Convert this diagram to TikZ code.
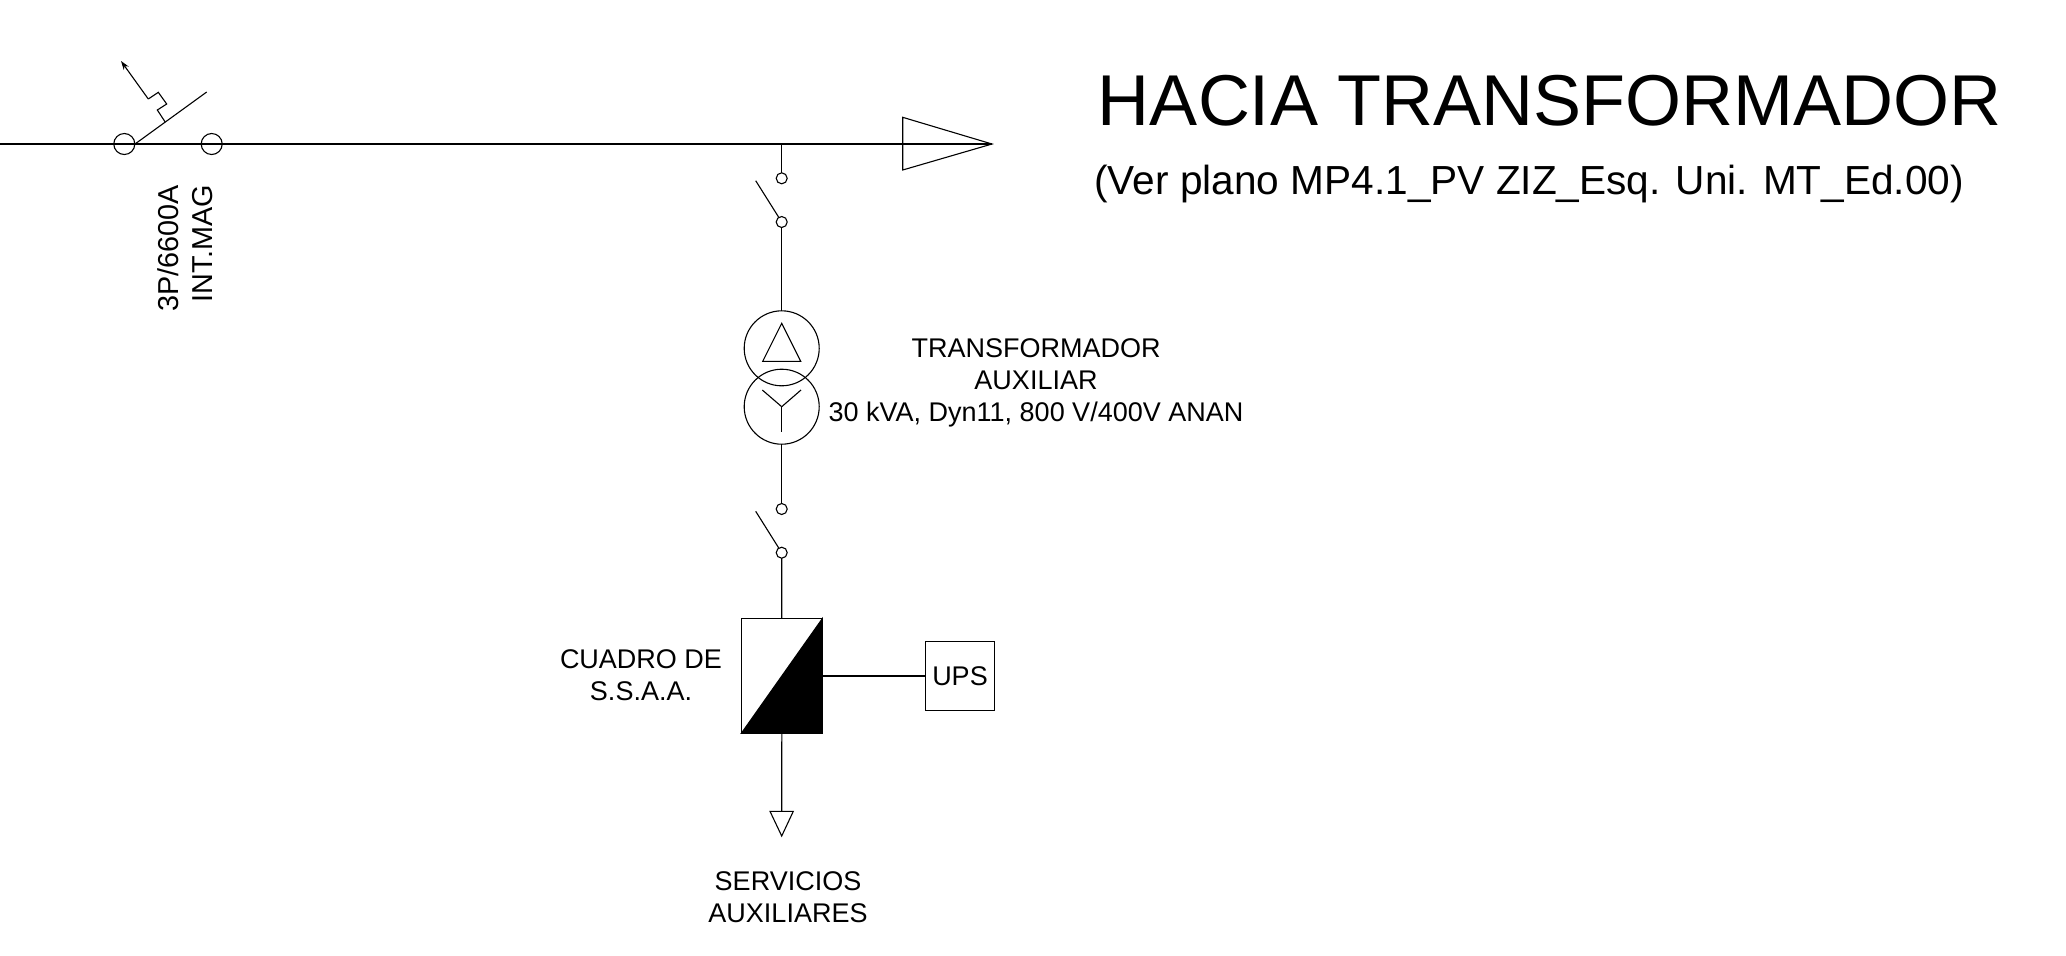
\documentclass[tikz,border=0pt]{standalone}
\usepackage{fontspec}
\setmainfont{Liberation Sans}
\usetikzlibrary{arrows.meta}
\tikzset{
  wire/.style={line width=0.55pt},
  contact/.style={circle,draw,line width=0.55pt,inner sep=0pt,outer sep=0pt,minimum size=5.5pt},
  brkcontact/.style={circle,draw,line width=0.55pt,inner sep=0pt,outer sep=0pt,minimum size=10.5pt},
  winding/.style={circle,draw,line width=0.55pt,inner sep=0pt,outer sep=0pt,minimum size=37.5pt},
  lbl/.style={font=\fontsize{13.5}{16}\selectfont,inner sep=0pt,align=center}
}
\begin{document}
\begin{tikzpicture}[x=0.5pt,y=-0.5pt]
  \useasboundingbox (0,0) rectangle (2066,955);
  \draw
    (0,144) coordinate (in)
    (781.7,144) coordinate (tap)
    (992,144) coordinate (tip)
    (902.7,117.3) coordinate (backup)
    (902.7,170) coordinate (backdown)
    (206.7,92) coordinate (bladeend)
    (135,144) coordinate (bladestart)
    (165,121.7) coordinate (m0)
    (157.3,110) coordinate (m1)
    (166.7,104) coordinate (m2)
    (158.3,92.3) coordinate (m3)
    (148.3,99) coordinate (m4)
    (121,61) coordinate (m5)
    (755.7,180.7) coordinate (blade1)
    (755.7,511.3) coordinate (blade2)
    (762.7,361.3) coordinate (d1)
    (800.7,361.3) coordinate (d2)
    (781.7,323.3) coordinate (d3)
    (781.7,406.7) coordinate (y0)
    (762.3,390) coordinate (y1)
    (801,390) coordinate (y2)
    (781.7,431.7) coordinate (y3)
    (770,811.3) coordinate (load1)
    (793.3,811.3) coordinate (load2)
    (781.7,811.3) coordinate (load0)
    (781.7,836) coordinate (load3);
  \node[brkcontact] (brk1) at (124.3,144) {};
  \node[brkcontact] (brk2) at (211.7,144) {};
  \node[contact] (sw1a) at (781.7,178.3) {};
  \node[contact] (sw1b) at (781.7,222) {};
  \node[winding] (tr1) at (781.7,348.3) {};
  \node[winding] (tr2) at (781.7,406.7) {};
  \node[contact] (sw2a) at (781.7,509) {};
  \node[contact] (sw2b) at (781.7,552.7) {};
  \node[draw,line width=0.55pt,inner sep=0pt,outer sep=0pt,minimum width=40.5pt,minimum height=57.35pt] (ssaa) at (781.8,676) {};
  \node[draw,line width=0.55pt,lbl,outer sep=0pt,minimum width=34.3pt,minimum height=34.2pt] (ups) at (960,676) {UPS};
  \begin{scope}[wire]
    \draw (in) to (tip);
    \draw (bladestart) to (bladeend);
    \draw (m0) -- (m1) -- (m2) -- (m3) -- (m4);
    \draw[-{Stealth[length=4.5pt,width=3pt]}] (m4) to (m5);
    \draw (backup) -- (tip) -- (backdown) -- cycle;
    \draw (tap) to (sw1a);
    \draw (sw1b) to (blade1);
    \draw (sw1b) to (tr1);
    \draw (d1) -- (d2) -- (d3) -- cycle;
    \draw (y1) to (y0);
    \draw (y2) to (y0);
    \draw (y0) to (y3);
    \draw (tr2) to (sw2a);
    \draw (sw2b) to (blade2);
    \draw (sw2b) to (ssaa);
    \draw[fill=black] (ssaa.south west) -- (ssaa.north east) -- (ssaa.south east) -- cycle;
    \draw (ssaa.east) to (ups.west);
    \draw (ssaa.south) to (load0);
    \draw (load1) -- (load2) -- (load3) -- cycle;
  \end{scope}
  \node[anchor=base,inner sep=0pt,font=\fontsize{36}{40}\selectfont] (title) at (1550,125) {HACIA TRANSFORMADOR};
  \node[anchor=base west,inner sep=0pt,font=\fontsize{20.3}{24}\selectfont] (subtitle) at (1094,194) {(Ver plano MP4.1\_PV ZIZ\_Esq. Uni. MT\_Ed.00)};
  \node[lbl,font=\fontsize{14.4}{16}\selectfont,anchor=base east,rotate=90] (rating) at (178,185) {3P/6600A};
  \node[lbl,font=\fontsize{14.4}{16}\selectfont,anchor=base east,rotate=90] (brktype) at (212,185) {INT.MAG};
  \node[lbl] (trlabel) at (1036,383) {TRANSFORMADOR\\AUXILIAR\\30 kVA, Dyn11, 800 V/400V ANAN};
  \node[lbl] (ssaalabel) at (641,675) {CUADRO DE\\S.S.A.A.};
  \node[lbl] (loadlabel) at (788,897) {SERVICIOS\\AUXILIARES};
\end{tikzpicture}
\end{document}
